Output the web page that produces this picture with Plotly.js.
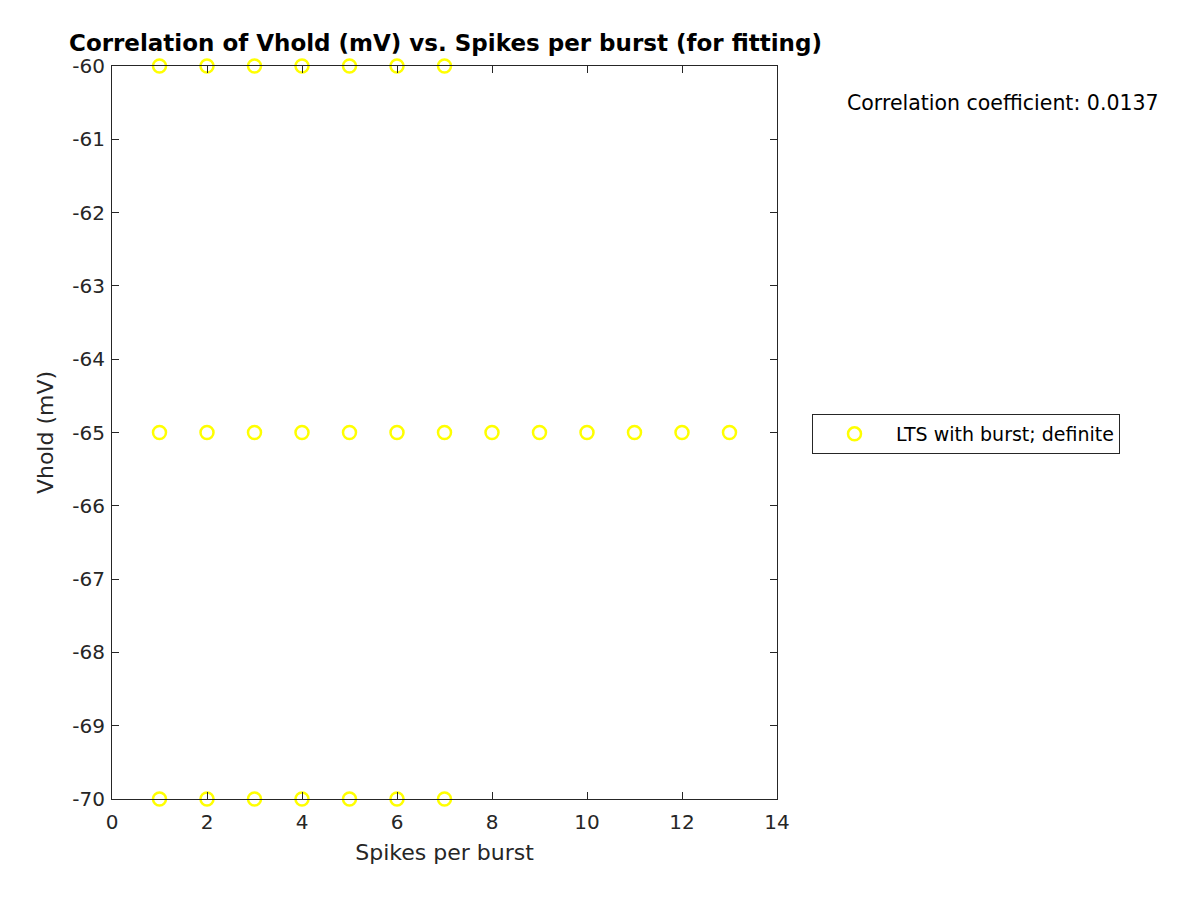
<!DOCTYPE html>
<html>
<head>
<meta charset="utf-8">
<script src="https://cdn.plot.ly/plotly-3.0.1.min.js"></script>
<style>html,body{margin:0;padding:0;background:#fff;}#chart{width:1200px;height:900px;}</style>
</head>
<body>
<div id="chart"></div>
<script>
// Data
const spikesPerBurst = [1,2,3,4,5,6,7, 1,2,3,4,5,6,7,8,9,10,11,12,13, 1,2,3,4,5,6,7];
const vhold = [-60,-60,-60,-60,-60,-60,-60, -65,-65,-65,-65,-65,-65,-65,-65,-65,-65,-65,-65,-65, -70,-70,-70,-70,-70,-70,-70];
const seriesName = 'LTS with burst; definite';
const xTicks = [0,2,4,6,8,10,12,14];
const yTicks = [-70,-69,-68,-67,-66,-65,-64,-63,-62,-61,-60];
const yTickLabels = ['-70','-69','-68','-67','-66','-65','-64','-63','-62','-61','-60'];
const corrText = 'Correlation coefficient: 0.0137';

const font = 'DejaVu Sans, sans-serif';
const trace = {
  x: spikesPerBurst, y: vhold, type: 'scatter', mode: 'markers', name: seriesName,
  marker: {symbol: 'circle-open', size: 13, color: '#ffff00', line: {width: 2.5, color: '#ffff00'}},
  cliponaxis: false
};
const axisCommon = {
  showgrid: false, zeroline: false, showline: true, mirror: 'ticks', linecolor: '#262626', linewidth: 1,
  ticks: 'inside', ticklen: 7, tickcolor: '#262626', tickfont: {family: font, size: 20, color: '#262626'}
};
const layout = {
  width: 1200, height: 900, paper_bgcolor: '#fff', plot_bgcolor: '#fff',
  margin: {l: 112, r: 423, t: 66, b: 101},
  showlegend: true,
  title: {text: '<b>Correlation of Vhold (mV) vs. Spikes per burst (for fitting)</b>', x: 69/1200, xanchor: 'left', y: 1-43/900, yanchor: 'middle', font: {family: font, size: 23, color: '#000'}},
  xaxis: Object.assign({}, axisCommon, {range: [0,14], tickvals: xTicks, ticklabelstandoff: 5, title: {text: 'Spikes per burst', font: {family: font, size: 22, color: '#262626'}, standoff: 11}}),
  yaxis: Object.assign({}, axisCommon, {range: [-70,-60], tickvals: yTicks, ticktext: yTickLabels, ticklabelstandoff: 2, title: {text: 'Vhold (mV)', font: {family: font, size: 22, color: '#262626'}, standoff: 12}}),
  legend: {x: (812-112)/665, xanchor: 'left', y: 1-(434-66)/733, yanchor: 'middle', bordercolor: '#262626', borderwidth: 1, bgcolor: '#fff', font: {family: font, size: 19, color: '#000'}, itemwidth: 73},
  annotations: [{text: corrText, xref: 'paper', yref: 'paper', x: (845-112)/665, y: 1-(103-66)/733, xanchor: 'left', yanchor: 'middle', showarrow: false, font: {family: font, size: 20.5, color: '#000'}}]
};
Plotly.newPlot('chart', [trace], layout, {displayModeBar: false});
</script>
</body>
</html>
